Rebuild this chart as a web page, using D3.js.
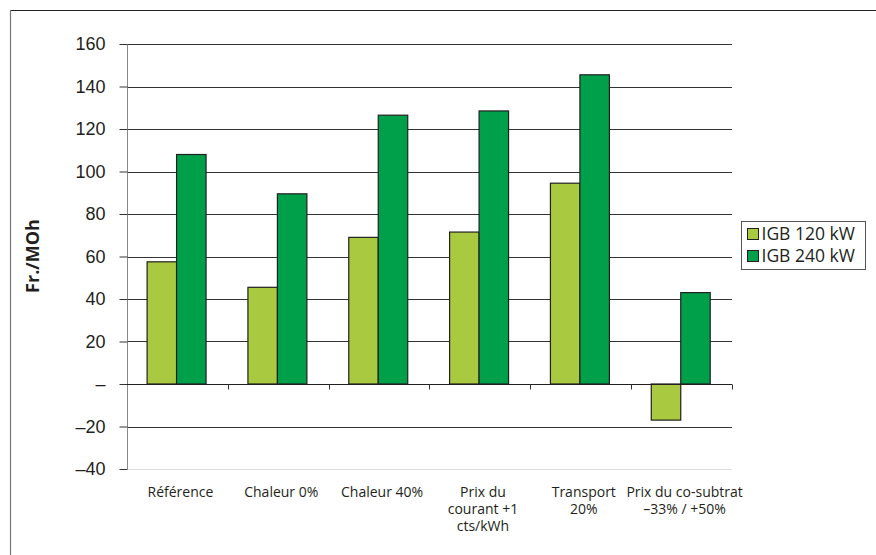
<!DOCTYPE html>
<html>
<head>
<meta charset="utf-8">
<script src="https://cdn.jsdelivr.net/npm/d3@7"></script>
<style>
  body { margin: 0; background: #fff; }
  svg { display: block; font-family: "Open Sans", "DejaVu Sans", sans-serif; }
</style>
</head>
<body>
<svg id="chart" width="876" height="555"></svg>
<script>
// data
const categories = ["Référence", "Chaleur 0%", "Chaleur 40%", "Prix du\ncourant +1\ncts/kWh", "Transport\n20%", "Prix du co-subtrat\n–33% / +50%"];
const seriesNames = ["IGB 120 kW", "IGB 240 kW"];
const igb120 = [57.5, 45.5, 69, 71.5, 94.5, -17];
const igb240 = [108, 89.5, 126.5, 128.5, 145.5, 43];
const yTicks = [-40, -20, 0, 20, 40, 60, 80, 100, 120, 140, 160];

const colors = ["#a8c940", "#00a04b"];
const textColor = "#231f20";

const svg = d3.select("#chart");
const margin = { l: 127, r: 144, t: 44, b: 86 };
const width = 876, height = 555;

// outer frame (top + left only)
svg.append("line").attr("x1", 10).attr("x2", width).attr("y1", 10.5).attr("y2", 10.5)
    .attr("stroke", "#231f20").attr("stroke-width", 1.2);
svg.append("line").attr("x1", 10.5).attr("x2", 10.5).attr("y1", 10).attr("y2", height)
    .attr("stroke", "#777").attr("stroke-width", 1.2);

const x = d3.scaleBand().domain(categories).range([margin.l, width - margin.r]);
const y = d3.scaleLinear().domain([-40, 160]).range([height - margin.b, margin.t]);
const x1 = d3.scaleBand().domain(seriesNames).range([0, x.bandwidth()]).paddingOuter(0.71).paddingInner(0).align(0.48);

// gridlines
svg.append("g").selectAll("line")
    .data(yTicks.filter(d => d !== 0 && d !== -40))
    .join("line")
    .attr("x1", margin.l).attr("x2", width - margin.r)
    .attr("y1", d => Math.round(y(d)) + 0.5).attr("y2", d => Math.round(y(d)) + 0.5)
    .attr("stroke", "#333").attr("stroke-width", 1);

// bottom line at -40
svg.append("line")
    .attr("x1", margin.l).attr("x2", width - margin.r)
    .attr("y1", Math.round(y(-40)) + 0.5).attr("y2", Math.round(y(-40)) + 0.5)
    .attr("stroke", "#ddd");

// y axis
const yAxis = svg.append("g")
    .attr("transform", `translate(${margin.l + 0.5},0)`)
    .call(d3.axisLeft(y).tickValues(yTicks).tickSize(8).tickPadding(14)
        .tickFormat(d => d === 0 ? "–" : (d < 0 ? "–" + Math.abs(d) : d)));
yAxis.select(".domain").attr("stroke", "#888").attr("d", `M0,${y(160)}V${y(-40)}`);
yAxis.selectAll(".tick line").attr("stroke", "#333");
yAxis.selectAll(".tick text").attr("font-size", 18).attr("fill", textColor);

// bars
const groups = svg.append("g").selectAll("g")
    .data(categories.map((c, i) => ({ cat: c, vals: [igb120[i], igb240[i]] })))
    .join("g")
    .attr("transform", d => `translate(${x(d.cat)},0)`);

groups.selectAll("rect")
    .data(d => d.vals.map((v, j) => ({ v, s: seriesNames[j], j })))
    .join("rect")
    .attr("x", d => x1(d.s))
    .attr("width", x1.bandwidth())
    .attr("y", d => y(Math.max(0, d.v)))
    .attr("height", d => Math.abs(y(d.v) - y(0)))
    .attr("fill", d => colors[d.j])
    .attr("stroke", "#231f20")
    .attr("stroke-width", 1.2);

// zero line with category ticks
const xAxis = svg.append("g")
    .attr("transform", `translate(0,${Math.round(y(0)) + 0.5})`);
xAxis.append("line").attr("x1", margin.l).attr("x2", width - margin.r)
    .attr("stroke", "#231f20").attr("stroke-width", 1.2);
xAxis.selectAll(".xt")
    .data(categories.map(c => x(c) + x.bandwidth()))
    .join("line")
    .attr("class", "xt")
    .attr("x1", d => Math.round(d) + 0.5).attr("x2", d => Math.round(d) + 0.5)
    .attr("y1", 0).attr("y2", 5)
    .attr("stroke", "#333");

// category labels, one text per line
const labelGroups = svg.append("g").selectAll("g")
    .data(categories)
    .join("g")
    .attr("transform", d => `translate(${x(d) + x.bandwidth() / 2 + 3},0)`);
labelGroups.selectAll("text")
    .data(d => d.split("\n"))
    .join("text")
    .attr("y", (d, i) => 497 + i * 17)
    .attr("text-anchor", "middle")
    .attr("font-size", 14)
    .attr("fill", textColor)
    .text(d => d);

// y label
svg.append("text")
    .attr("transform", "translate(39,256) rotate(-90)")
    .attr("text-anchor", "middle")
    .attr("font-size", 18)
    .attr("font-weight", "bold")
    .attr("fill", textColor)
    .text("Fr./MOh");

// legend
const legend = svg.append("g").attr("transform", "translate(741.5,221.5)");
legend.append("rect").attr("width", 124).attr("height", 48)
    .attr("fill", "#fff").attr("stroke", "#555").attr("stroke-width", 1);
seriesNames.forEach((s, i) => {
    const g = legend.append("g").attr("transform", `translate(6,${7 + i * 22})`);
    g.append("rect").attr("width", 11).attr("height", 11)
        .attr("fill", colors[i]).attr("stroke", "#231f20").attr("stroke-width", 1);
    g.append("text").attr("x", 14).attr("y", 11.5)
        .attr("font-size", 17.5).attr("fill", textColor).text(s);
});
</script>
</body>
</html>
